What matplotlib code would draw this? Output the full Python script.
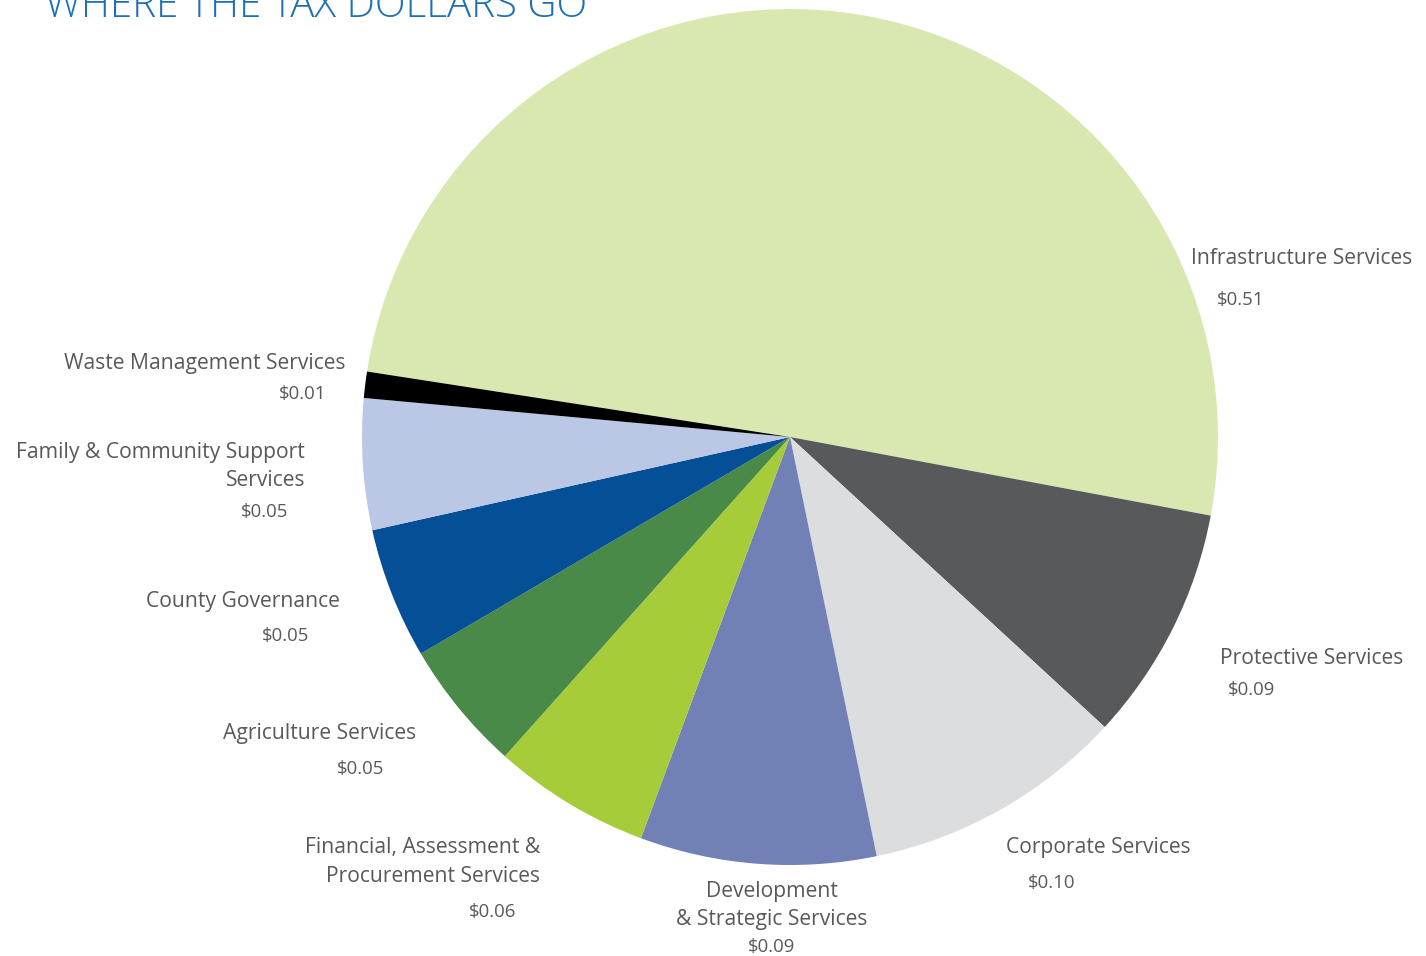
import matplotlib
matplotlib.use("Agg")
import matplotlib.pyplot as plt

# Share of each tax dollar, clockwise from the left edge
categories = [
    "Infrastructure Services",
    "Protective Services",
    "Corporate Services",
    "Development & Strategic Services",
    "Financial, Assessment & Procurement Services",
    "Agriculture Services",
    "County Governance",
    "Family & Community Support Services",
    "Waste Management Services",
]
values = [0.51, 0.09, 0.10, 0.09, 0.06, 0.05, 0.05, 0.05, 0.01]
colors = ["#d9e8b0", "#58595b", "#dcdddf", "#7181b5", "#a6cc3a",
          "#4a8a48", "#044f96", "#bac8e6", "#000000"]

# Label text: (lines of the name, value string)
label_lines = [
    ["Infrastructure Services"],
    ["Protective Services"],
    ["Corporate Services"],
    ["Development", "& Strategic Services"],
    ["Financial, Assessment &", "Procurement Services"],
    ["Agriculture Services"],
    ["County Governance"],
    ["Family & Community Support", "Services"],
    ["Waste Management Services"],
]
value_labels = ["$%.2f" % v for v in values]

# Label placement in pixels: name anchor, value anchor, alignment, line gap
LABEL_POS = [
    ((1191, 258), (1217, 300), "left", 29),
    ((1220, 658), (1228, 690), "left", 29),
    ((1006, 848), (1028, 883), "left", 29),
    ((772, 891), (772, 947), "center", 29),
    ((540, 848), (516, 912), "right", 29),
    ((416, 733), (384, 769), "right", 29),
    ((340, 602), (309, 636), "right", 29),
    ((305, 452), (288, 512), "right", 29),
    ((345, 364), (326, 394), "right", 29),
]

W, H = 1426, 956
CX, CY, R = 790, 437, 428
TEXT = "#58595b"
FONT = "Open Sans"

fig = plt.figure(figsize=(W / 100, H / 100), dpi=100)
ax = fig.add_axes([(CX - R) / W, (H - CY - R) / H, 2 * R / W, 2 * R / H])
ax.pie(values, colors=colors, startangle=171.2, counterclock=False,
       radius=1, wedgeprops={"linewidth": 0})
ax.set_xlim(-1, 1)
ax.set_ylim(-1, 1)
ax.set_aspect("equal")
ax.set_axis_off()


def px(x, y):
    return x / W, 1 - y / H


for lines, val, (npos, vpos, ha, gap) in zip(label_lines, value_labels, LABEL_POS):
    for i, line in enumerate(lines):
        fig.text(*px(npos[0], npos[1] + i * gap), line, ha=ha, va="center",
                 fontsize=15.2, color=TEXT, family=FONT)
    fig.text(*px(*vpos), val, ha=ha, va="center", fontsize=13.4,
             color=TEXT, family=FONT)

# Title sits partly above the top edge
fig.text(*px(45, 17), "WHERE THE TAX DOLLARS GO", ha="left", va="baseline",
         fontsize=29, color="#1f6fb5", family=FONT, fontweight="light")

fig.savefig("out.png", dpi=100)
